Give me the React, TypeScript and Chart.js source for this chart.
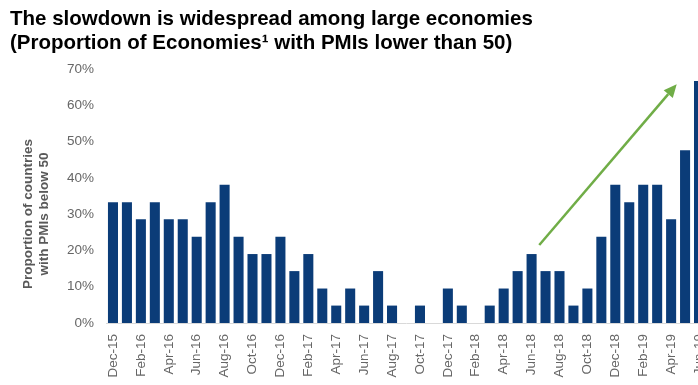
import React, { useEffect, useRef } from "react";
import { Chart, registerables } from "chart.js";

Chart.register(...registerables);

const TITLE_LINES = [
  "The slowdown is widespread among large economies",
  "(Proportion of Economies\u00B9 with PMIs lower than 50)",
];
const Y_TITLE_LINES = ["Proportion of countries", "with PMIs below 50"];

const MONTHS = [
  "Dec-15", "Jan-16", "Feb-16", "Mar-16", "Apr-16", "May-16", "Jun-16", "Jul-16", "Aug-16", "Sep-16", "Oct-16", "Nov-16",
  "Dec-16", "Jan-17", "Feb-17", "Mar-17", "Apr-17", "May-17", "Jun-17", "Jul-17", "Aug-17", "Sep-17", "Oct-17", "Nov-17",
  "Dec-17", "Jan-18", "Feb-18", "Mar-18", "Apr-18", "May-18", "Jun-18", "Jul-18", "Aug-18", "Sep-18", "Oct-18", "Nov-18",
  "Dec-18", "Jan-19", "Feb-19", "Mar-19", "Apr-19", "May-19", "Jun-19",
];

const SHARE_BELOW_50 = [
  33.3, 33.3, 28.6, 33.3, 28.6, 28.6, 23.8, 33.3, 38.1, 23.8, 19.0, 19.0,
  23.8, 14.3, 19.0, 9.5, 4.8, 9.5, 4.8, 14.3, 4.8, 0, 4.8, 0,
  9.5, 4.8, 0, 4.8, 9.5, 14.3, 19.0, 14.3, 14.3, 4.8, 9.5, 23.8,
  38.1, 33.3, 38.1, 38.1, 28.6, 47.6, 66.7,
];

const Y_TICKS = [0, 10, 20, 30, 40, 50, 60, 70];

// arrow annotation in data space: [category index, value %]
const ARROW_FROM = [30.55, 21.5];
const ARROW_TO = [40.4, 65.8];

const BAR_COLOR = "#0b3c78";
const ARROW_COLOR = "#70ad47";
const GREY = "#666666";
const FONT = "'Liberation Sans', Arial, sans-serif";

const overlayPlugin = {
  id: "overlay",
  afterDatasetsDraw(chart: any) {
    const { ctx, scales } = chart;
    const x0 = scales.x.getPixelForValue(ARROW_FROM[0]);
    const y0 = scales.y.getPixelForValue(ARROW_FROM[1]);
    const x1 = scales.x.getPixelForValue(ARROW_TO[0]);
    const y1 = scales.y.getPixelForValue(ARROW_TO[1]);
    const ang = Math.atan2(y1 - y0, x1 - x0);
    const head = 13;
    const hw = 6;
    const bx = x1 - head * Math.cos(ang);
    const by = y1 - head * Math.sin(ang);
    ctx.save();
    ctx.strokeStyle = ARROW_COLOR;
    ctx.fillStyle = ARROW_COLOR;
    ctx.lineWidth = 2.5;
    ctx.beginPath();
    ctx.moveTo(x0, y0);
    ctx.lineTo(bx, by);
    ctx.stroke();
    ctx.beginPath();
    ctx.moveTo(x1, y1);
    ctx.lineTo(bx + hw * Math.sin(ang), by - hw * Math.cos(ang));
    ctx.lineTo(bx - hw * Math.sin(ang), by + hw * Math.cos(ang));
    ctx.closePath();
    ctx.fill();
    ctx.restore();
  },
  afterDraw(chart: any) {
    const { ctx } = chart;
    ctx.save();
    ctx.fillStyle = "#595959";
    ctx.font = `bold 13.5px ${FONT}`;
    ctx.textAlign = "center";
    ctx.textBaseline = "middle";
    const cy = 214;
    const xs = [28, 44];
    Y_TITLE_LINES.forEach((line, i) => {
      ctx.save();
      ctx.translate(xs[i], cy);
      ctx.rotate(-Math.PI / 2);
      ctx.fillText(line, 0, 0);
      ctx.restore();
    });
    ctx.restore();
  },
};

export default function App() {
  const ref = useRef<HTMLCanvasElement | null>(null);
  useEffect(() => {
    if (!ref.current) return;
    const chart = new Chart(ref.current, {
      type: "bar",
      data: {
        labels: MONTHS,
        datasets: [
          {
            data: SHARE_BELOW_50,
            backgroundColor: BAR_COLOR,
            barPercentage: 0.72,
            categoryPercentage: 1,
          },
        ],
      },
      options: {
        animation: false,
        responsive: false,
        layout: { padding: { left: 10, top: 0, right: 0, bottom: 0 } },
        plugins: {
          legend: { display: false },
          tooltip: { enabled: false },
          title: {
            display: true,
            text: TITLE_LINES,
            align: "start",
            color: "#000000",
            font: { family: FONT, size: 20.5, weight: "bold", lineHeight: 1.17 },
            padding: { top: 7, bottom: 14 },
          },
        },
        scales: {
          x: {
            grid: { display: false },
            border: { display: true, color: "#d9d9d9", width: 1 },
            ticks: {
              autoSkip: false,
              maxRotation: 90,
              minRotation: 90,
              padding: 3,
              color: GREY,
              font: { family: FONT, size: 13.5 },
              callback: function (_v: any, i: number) {
                return i % 2 === 0 ? MONTHS[i] : "";
              },
            },
            afterFit(scale: any) {
              scale.height = 62;
              scale.paddingLeft = 0;
              scale.paddingRight = 0;
            },
          },
          y: {
            min: 0,
            max: 70,
            grid: { display: false, drawTicks: false },
            border: { display: false },
            afterBuildTicks(scale: any) {
              scale.ticks = Y_TICKS.map((v) => ({ value: v }));
            },
            ticks: {
              padding: 12,
              color: GREY,
              font: { family: FONT, size: 13.5 },
              callback: (v: any) => `${v}%`,
            },
            afterFit(scale: any) {
              scale.width = 96;
            },
          },
        },
      },
      plugins: [overlayPlugin],
    });
    return () => chart.destroy();
  }, []);

  return (
    <div
      style={{
        position: "absolute",
        left: 0,
        top: 0,
        width: 698,
        height: 385,
        overflow: "hidden",
        background: "#ffffff",
      }}
    >
      <canvas ref={ref} width={706} height={385} style={{ display: "block" }} />
    </div>
  );
}
